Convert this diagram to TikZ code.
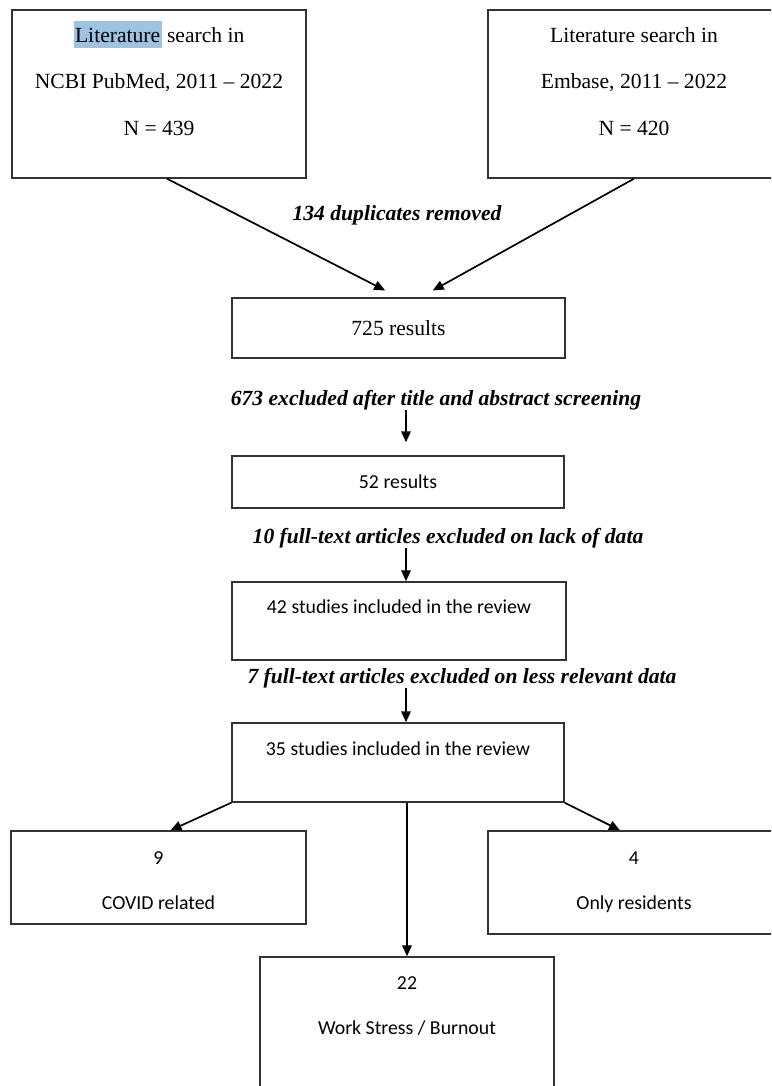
\documentclass[tikz,border=0pt]{standalone}
\usepackage{fontspec}
\setmainfont{Liberation Serif}
\newfontfamily\calib{Carlito}
\usetikzlibrary{arrows.meta}
\definecolor{selblue}{HTML}{9DC3E0}

\begin{document}
\begin{tikzpicture}[x=1pt, y=-1pt,
    box/.style={draw=black!80, line width=1.4pt, inner sep=0pt},
    txt/.style={anchor=base, inner sep=0pt, font=\fontsize{21.6}{26}\selectfont},
    stxt/.style={anchor=base, inner sep=0pt, font=\calib\fontsize{19.8}{24}\selectfont},
    note/.style={inner sep=0pt, font=\fontsize{21.6}{26}\selectfont\bfseries\itshape},
    arr/.style={line width=1.7pt, -{Triangle[length=11pt, width=9.5pt]}}]

    \useasboundingbox (0,0) rectangle (771,1086);
    \clip (0,0) rectangle (771,1086);
    \coordinate (spine) at (406,0);

    % Search boxes
    \node[box, minimum width=294pt, minimum height=168pt,
          label={[txt, yshift=-33pt]north:{\smash{\setlength{\fboxsep}{0pt}\colorbox{selblue}{\rule[-6pt]{0pt}{27pt}\kern1.5pt Literature\kern1.5pt}} search in}},
          label={[txt, yshift=-79.7pt]north:{NCBI PubMed, 2011 -- 2022}},
          label={[txt, yshift=-126.4pt]north:{N = 439}}] (pubmed) at (159,94) {};
    \node[box, minimum width=292pt, minimum height=168pt,
          label={[txt, yshift=-33pt]north:{Literature search in}},
          label={[txt, yshift=-79.7pt]north:{Embase, 2011 -- 2022}},
          label={[txt, yshift=-126.4pt]north:{N = 420}}] (embase) at (634,94) {};

    % Screening steps
    \node[box, minimum width=333pt, minimum height=60pt, font=\fontsize{21.6}{26}\selectfont] (r725) at (398.5,328) {725 results};
    \node[box, minimum width=332pt, minimum height=52pt, font=\calib\fontsize{19.8}{24}\selectfont] (r52) at (398,482) {52 results};
    \node[box, minimum width=334pt, minimum height=78pt,
          label={[stxt, yshift=-32pt]north:{42 studies included in the review}}] (r42) at (399,621) {};
    \node[box, minimum width=332pt, minimum height=79pt,
          label={[stxt, yshift=-33.5pt]north:{35 studies included in the review}}] (r35) at (398,762.5) {};

    % Groups
    \node[box, minimum width=295pt, minimum height=93pt,
          label={[stxt, yshift=-34pt]north:{9}},
          label={[stxt, yshift=-79.5pt]north:{COVID related}}] (b9) at (158.5,877.5) {};
    \node[box, minimum width=292pt, minimum height=103pt,
          label={[stxt, yshift=-34pt]north:{4}},
          label={[stxt, yshift=-79.5pt]north:{Only residents}}] (b4) at (634,882.5) {};
    \node[box, minimum width=294pt, minimum height=140pt,
          label={[stxt, yshift=-33.5pt]north:{22}},
          label={[stxt, yshift=-78.5pt]north:{Work Stress / Burnout}}] (b22) at (407,1027) {};

    % Exclusion notes
    \node[note] (dup) at (397,215) {134 duplicates removed};
    \node[note] (ex1) at (436,400) {673 excluded after title and abstract screening};
    \node[note] (ex2) at (448,538) {10 full-text articles excluded on lack of data};
    \node[note] (ex3) at (462,678) {7 full-text articles excluded on less relevant data};

    % Arrows
    \draw[arr, shorten >=15pt] ([xshift=8pt]pubmed.south) -- (r725.north);
    \draw[arr, shorten >=14pt] (embase.south) -- ([xshift=22pt]r725.north);
    \draw[arr, shorten >=13pt] (spine |- ex1.south) -- (spine |- r52.north);
    \draw[arr] (spine |- ex2.south) -- (spine |- r42.north);
    \draw[arr] (spine |- ex3.south) -- (spine |- r35.north);
    \draw[arr] (r35.south west) -- ([xshift=12pt]b9.north);
    \draw[arr] (r35.south -| b22.north) -- (b22.north);
    \draw[arr] (r35.south east) -- ([xshift=-14pt]b4.north);
\end{tikzpicture}
\end{document}
